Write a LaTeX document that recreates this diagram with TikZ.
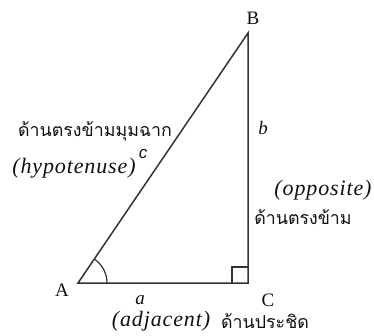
\documentclass[tikz,border=0pt]{standalone}
\usepackage{fontspec}
\setmainfont{Liberation Serif}
\newfontfamily\thaifont[Script=Thai]{Loma}
\newfontfamily\engfont[LetterSpace=4]{Liberation Serif}
\newfontfamily\csansfont{Liberation Sans}
\usetikzlibrary{calc}
\definecolor{trigline}{HTML}{333333}
\definecolor{trigtext}{HTML}{111111}
\tikzset{
  side/.style={draw=trigline, line width=1.5pt, line join=miter},
  mark90/.style={draw=trigline, line width=1.2pt},
  vtx/.style={font=\fontsize{19}{21}\selectfont, text=trigtext, inner sep=0pt},
  sidelbl/.style={font=\fontsize{19}{21}\selectfont\itshape, text=trigtext, inner sep=0pt},
  eng/.style={font=\fontsize{22}{24}\engfont\itshape, text=trigtext, inner sep=0pt},
  thai/.style={font=\fontsize{17.8}{20}\thaifont, text=trigtext, inner sep=0pt},
}

\begin{document}
\begin{tikzpicture}[x=1pt, y=-1pt]
  \useasboundingbox (0,0) rectangle (374,335);
  % vertices
  \coordinate (A) at (78,283);
  \coordinate (C) at (248,283);
  \coordinate (B) at (248,33);
  \draw[side] (A) -- (C) -- (B) -- cycle;
  % angle marks
  \draw[mark90] ($(C)+(-16,0)$) |- ($(C)+(0,-16)$);
  \draw[mark90] ($(A)+(29pt,0)$) arc[start angle=0, end angle=55.8, radius=29pt];
  % vertex names
  \node[vtx] (lA) at (62,290) {A};
  \node[vtx] (lB) at (253,18) {B};
  \node[vtx] (lC) at (268,300) {C};
  % side letters
  \node[sidelbl] (la) at (140,300) {a};
  \node[sidelbl] (lb) at (263,128) {b};
  \node[font=\fontsize{17}{20}\csansfont\itshape, text=trigtext, inner sep=0pt] (lc) at (143,154) {c};
  % side names
  \node[thai] (hypth) at (95,131) {ด้านตรงข้ามมุมฉาก};
  \node[eng] (hypen) at (74,168) {(hypotenuse)};
  \node[eng] (oppen) at (323,190) {(opposite)};
  \node[thai] (oppth) at (303,217) {ด้านตรงข้าม};
  \node[eng] (adjen) at (161,321) {(adjacent)};
  \node[thai] (adjth) at (265,321) {ด้านประชิด};
\end{tikzpicture}
\end{document}
